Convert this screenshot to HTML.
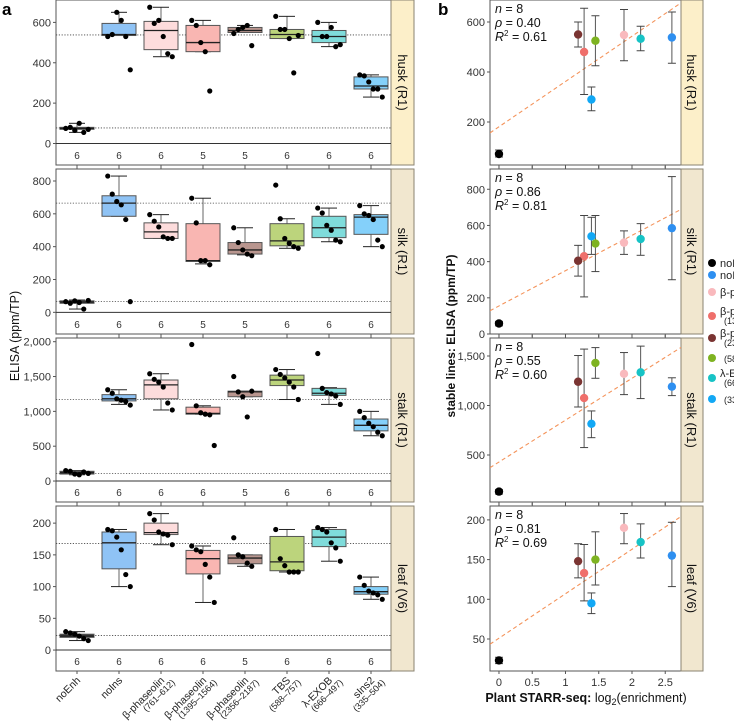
<!DOCTYPE html>
<html><head><meta charset="utf-8">
<style>
html,body{margin:0;padding:0;width:734px;height:723px;overflow:hidden;background:#fff;}
svg{display:block;font-family:"Liberation Sans",sans-serif;}
</style></head>
<body>
<svg id="fig" width="734" height="723" viewBox="0 0 734 723" xmlns="http://www.w3.org/2000/svg"></svg>
<script>
const categories = ["noEnh","noIns","β-phaseolin|(761–612)","β-phaseolin|(1395–1564)","β-phaseolin|(2356–2187)","TBS|(588–757)","λ-EXOB|(666–497)","sIns2|(335–504)"];
const tissues = ["husk (R1)","silk (R1)","stalk (R1)","leaf (V6)"];
const boxFill = ["#3a3a3a","#8fc3f5","#fddcdc","#f9b6b2","#b9968f","#bcd47c","#7fdcdb","#84d0fa"];
const dotColor = ["#000000","#2e8ff0","#f9b9bd","#ef6f6b","#7a3432","#7eb321","#17c3c6","#12a8f5"];
// boxes: [lo, q1, med, q3, hi]
const huskBox = [[55,70,75,80,100],[535,535,540,595,650],[430,465,560,605,675],[455,455,500,585,610],[550,550,560,575,585],[520,520,540,565,630],[480,500,530,560,600],[230,270,285,330,340]];
const huskPts = [[75,80,65,100,55,70],[530,540,650,610,530,365],[675,595,610,530,445,430],[610,585,500,455,260],[545,565,575,585,485],[630,565,565,520,350,535],[600,530,530,575,480,490],[340,335,305,270,270,230]];
const silkBox = [[20,55,63,70,75],[585,585,665,710,830],[450,450,490,545,595],[295,310,315,540,695],[350,355,380,425,515],[390,405,435,540,570],[430,455,515,585,635],[400,475,580,595,650]];
const silkPts = [[65,55,70,60,20,72],[830,720,675,655,565,65],[595,555,520,460,450,450],[695,545,315,315,290],[515,425,380,355,345],[775,570,450,420,400,390],[635,605,530,500,440,430],[650,600,590,565,440,400]];
const stalkBox = [[90,100,120,140,150],[1100,1150,1180,1240,1310],[1020,1180,1380,1450,1540],[960,960,970,1060,1080],[1210,1210,1280,1290,1290],[1170,1370,1450,1520,1600],[1100,1230,1260,1330,1340],[650,720,800,890,1000]];
const stalkPts = [[150,140,100,90,130,110],[1310,1260,1180,1160,1140,1090],[1540,1460,1420,1350,1120,1020],[1960,1080,980,960,950,510],[1500,1280,1210,920,1290],[1600,1530,1480,1420,1350,1170],[1830,1330,1270,1250,1220,1100],[1000,910,830,780,700,650]];
const leafBox = [[15,20,22,25,29],[100,128,169,186,190],[166,182,185,200,215],[75,120,144,157,164],[132,136,145,150,150],[123,125,139,179,190],[140,163,178,190,193],[80,88,92,100,115]];
const leafPts = [[29,27,25,22,18,15],[190,188,178,158,119,100],[215,205,186,183,181,166],[164,158,155,135,115,75],[177,150,147,137,132],[190,144,133,123,123,123],[193,190,186,169,161,140],[115,102,93,90,87,80]];
const refLines = [[77,538],[65,665],[110,1170],[23,168]];
const counts = [[6,6,6,5,5,6,6,6],[6,6,6,5,5,6,6,6],[6,6,6,6,5,6,6,6],[6,6,6,6,5,6,6,6]];
const leftTicks = [[0,200,400,600],[0,200,400,600,800],[0,500,1000,1500,2000],[0,50,100,150,200]];
const leftTickLabels = [["0","200","400","600"],["0","200","400","600","800"],["0","500","1,000","1,500","2,000"],["0","50","100","150","200"]];
const enrich = [0,2.6,1.88,1.28,1.19,1.45,2.13,1.39];
const huskMean = [72,538,548,480,550,525,533,290];
const huskLo = [60,435,445,310,500,425,485,245];
const huskHi = [88,640,650,655,600,625,583,340];
const silkMean = [58,585,505,430,405,500,525,540];
const silkLo = [45,300,440,205,320,345,435,440];
const silkHi = [70,870,570,655,490,655,610,645];
const stalkMean = [130,1190,1320,1075,1240,1430,1335,815];
const stalkLo = [105,1100,1110,575,985,1275,1070,675];
const stalkHi = [150,1280,1535,1570,1505,1585,1600,945];
const leafMean = [23,155,190,133,148,150,172,95];
const leafLo = [19,116,170,98,127,118,152,82];
const leafHi = [27,197,208,169,170,185,195,108];
const fitIntercept = [181,155,429,51];
const fitSlope = [181,195,423,56];
const statsRho = ["0.40","0.86","0.55","0.81"];
const statsR2 = ["0.61","0.81","0.60","0.69"];
const rightTicks = [[200,400,600],[0,200,400,600,800],[500,1000,1500],[50,100,150,200]];
const rightTickLabels = [["200","400","600"],["0","200","400","600","800"],["500","1,000","1,500"],["50","100","150","200"]];
const xTicks = [0,0.5,1,1.5,2,2.5];
const xTickLabels = ["0","0.5","1","1.5","2","2.5"];
const legendLine1 = ["noEnh","noIns","β-phaseolin","β-phaseolin","β-phaseolin","TBS","λ-EXOB","sIns2"];
const legendLine2 = ["","","","(1395–1564)","(2356–2187)","(588–757)","(666–497)","(335–504)"];

const NS="http://www.w3.org/2000/svg";
const svg=document.getElementById('fig');
function el(tag,attrs,parent,text){const e=document.createElementNS(NS,tag);for(const k in attrs)e.setAttribute(k,attrs[k]);if(text!==undefined)e.textContent=text;(parent||svg).appendChild(e);return e;}

const panelTop=[0,169,338,506], panelBot=[165,334,502,671];
const leftDom=[[-106.6,711],[-132,873],[-301,2053],[-33,227]];
const rightDom=[[28,688],[0,912],[25,1682],[9.7,217.5]];
const LX0=56,LX1=391,RX0=490,RX1=681;
const boxes=[huskBox,silkBox,stalkBox,leafBox], pts=[huskPts,silkPts,stalkPts,leafPts];
const means=[huskMean,silkMean,stalkMean,leafMean], los=[huskLo,silkLo,stalkLo,leafLo], his=[huskHi,silkHi,stalkHi,leafHi];
const stripFill=["#fcefc9","#f1e7cf","#f1e7cf","#f1e7cf"];
function catX(i){return 77+i*42;}
function xR(v){return RX0+(v+0.135)/(2.872)*(RX1-RX0);}

for(let p=0;p<4;p++){
  const t=panelTop[p],b=panelBot[p];
  const yL=v=>b-(v-leftDom[p][0])/(leftDom[p][1]-leftDom[p][0])*(b-t);
  const yR=v=>b-(v-rightDom[p][0])/(rightDom[p][1]-rightDom[p][0])*(b-t);
  const g=el('g',{},svg);
  
  
  el('rect',{x:LX0,y:t,width:LX1-LX0,height:b-t,fill:'#fff',stroke:'#555','stroke-width':1},g);
  const s=el('rect',{x:LX1,y:t,width:23,height:b-t,fill:stripFill[p],stroke:'#8a8372','stroke-width':1},g);
  
  
  el('text',{x:0,y:0,transform:`translate(${LX1+7},${(t+b)/2}) rotate(90)`,'text-anchor':'middle','font-size':13,fill:'#111'},g,tissues[p]);
  el('line',{x1:LX0,x2:LX1,y1:yL(0),y2:yL(0),stroke:'#333','stroke-width':1},g);
  refLines[p].forEach(v=>{const r=el('line',{x1:LX0,x2:LX1,y1:yL(v),y2:yL(v),stroke:'#444','stroke-width':0.8,'stroke-dasharray':'1.2,1.6'},g);
    
    });
  leftTicks[p].forEach((v,i)=>{el('line',{x1:LX0-3,x2:LX0,y1:yL(v),y2:yL(v),stroke:'#555'},g);
    el('text',{x:LX0-5,y:yL(v)+4,'text-anchor':'end','font-size':11,fill:'#333'},g,leftTickLabels[p][i]);});
  for(let c=0;c<8;c++){
    const cx=catX(c),bx=boxes[p][c];
    el('line',{x1:cx,x2:cx,y1:b,y2:b+3,stroke:'#555'},g);
    el('line',{x1:cx,x2:cx,y1:t-3,y2:t,stroke:'#555'},g);
    const bg=el('g',{},g);
    
    
    el('line',{x1:cx,x2:cx,y1:yL(bx[0]),y2:yL(bx[4]),stroke:'#666','stroke-width':1},bg);
    el('line',{x1:cx-8,x2:cx+8,y1:yL(bx[0]),y2:yL(bx[0]),stroke:'#222','stroke-width':1},bg);
    el('line',{x1:cx-8,x2:cx+8,y1:yL(bx[4]),y2:yL(bx[4]),stroke:'#222','stroke-width':1},bg);
    el('rect',{x:cx-17,y:yL(bx[3]),width:34,height:Math.max(1.5,yL(bx[1])-yL(bx[3])),fill:boxFill[c],stroke:'#555','stroke-width':1},bg);
    el('line',{x1:cx-17,x2:cx+17,y1:yL(bx[2]),y2:yL(bx[2]),stroke:'#222','stroke-width':1.3},bg);
    pts[p][c].forEach((v,i)=>{const d=el('circle',{cx:cx+((i*7)%6-2.5)*4.5,cy:yL(v),r:2.6,fill:'#000'},bg);
      
      });
    el('text',{x:cx,y:b-6,'text-anchor':'middle','font-size':10,fill:'#333'},g,String(counts[p][c]));
  }
  const h=el('g',{},svg);
  
  
  el('rect',{x:RX0,y:t,width:RX1-RX0,height:b-t,fill:'#fff',stroke:'#555','stroke-width':1},h);
  const s2=el('rect',{x:RX1,y:t,width:22,height:b-t,fill:stripFill[p],stroke:'#8a8372','stroke-width':1},h);
  
  
  el('text',{x:0,y:0,transform:`translate(${RX1+6},${(t+b)/2}) rotate(90)`,'text-anchor':'middle','font-size':13,fill:'#111'},h,tissues[p]);
  rightTicks[p].forEach((v,i)=>{el('line',{x1:RX0-3,x2:RX0,y1:yR(v),y2:yR(v),stroke:'#555'},h);
    el('text',{x:RX0-5,y:yR(v)+4,'text-anchor':'end','font-size':11,fill:'#333'},h,rightTickLabels[p][i]);});
  xTicks.forEach(v=>{el('line',{x1:xR(v),x2:xR(v),y1:b,y2:b+3,stroke:'#555'},h);el('line',{x1:xR(v),x2:xR(v),y1:t-3,y2:t,stroke:'#555'},h);});
  const cid='clip'+p;
  const cp=el('clipPath',{id:cid},h);el('rect',{x:RX0,y:t,width:RX1-RX0,height:b-t},cp);
  const xa=-0.135,xb=2.737;
  const fl=el('line',{x1:xR(xa),x2:xR(xb),y1:yR(fitIntercept[p]+fitSlope[p]*xa),y2:yR(fitIntercept[p]+fitSlope[p]*xb),stroke:'#f4935a','stroke-width':1.1,'stroke-dasharray':'4,3','clip-path':`url(#${cid})`},h);
  
  
  for(let c=0;c<8;c++){
    const x=xR(enrich[c]);
    const eg=el('g',{},h);
    
    
    el('line',{x1:x,x2:x,y1:yR(los[p][c]),y2:yR(his[p][c]),stroke:'#555','stroke-width':1},eg);
    el('line',{x1:x-4,x2:x+4,y1:yR(los[p][c]),y2:yR(los[p][c]),stroke:'#444','stroke-width':1},eg);
    el('line',{x1:x-4,x2:x+4,y1:yR(his[p][c]),y2:yR(his[p][c]),stroke:'#444','stroke-width':1},eg);
    el('circle',{cx:x,cy:yR(means[p][c]),r:4.2,fill:dotColor[c]},eg);
  }
  const st=el('text',{x:RX0+4,y:t+13,'font-size':12.5,fill:'#111'},h);
  
  
  el('tspan',{x:RX0+5,dy:0,'font-style':'italic'},st,'n');el('tspan',{},st,' = 8');
  el('tspan',{x:RX0+5,dy:14,'font-style':'italic'},st,'ρ');el('tspan',{},st,' = '+statsRho[p]);
  el('tspan',{x:RX0+5,dy:14,'font-style':'italic'},st,'R');el('tspan',{dy:-5,'font-size':8},st,'2');el('tspan',{dy:5},st,' = '+statsR2[p]);
}
categories.forEach((c,i)=>{const parts=c.split('|');const cx=catX(i);
  const tg=el('text',{x:0,y:0,transform:`translate(${cx+4},${681}) rotate(-45)`,'text-anchor':'end','font-size':10.5,fill:'#222'},svg);
  
  
  el('tspan',{x:0,dy:0},tg,parts[0]);
  if(parts[1]) el('tspan',{x:6,dy:9,'font-size':9},tg,parts[1]);
});
xTicks.forEach((v,i)=>el('text',{x:xR(v),y:686,'text-anchor':'middle','font-size':11,fill:'#333'},svg,xTickLabels[i]));
const xt=el('text',{x:586,y:702,'text-anchor':'middle','font-size':12.5,fill:'#111'},svg);


el('tspan',{'font-weight':'bold'},xt,'Plant STARR-seq: ');el('tspan',{},xt,'log');el('tspan',{dy:3,'font-size':9},xt,'2');el('tspan',{dy:-3},xt,'(enrichment)');
const yt1=el('text',{x:0,y:0,transform:'translate(19,336) rotate(-90)','text-anchor':'middle','font-size':12.5,fill:'#111'},svg,'ELISA (ppm/TP)');


const yt2=el('text',{x:0,y:0,transform:'translate(455,336) rotate(-90)','text-anchor':'middle','font-size':12,'font-weight':'bold',fill:'#111'},svg,'stable lines: ELISA (ppm/TP)');


el('text',{x:2,y:15,'font-size':17,'font-weight':'bold',fill:'#000'},svg,'a');
el('text',{x:438,y:15,'font-size':17,'font-weight':'bold',fill:'#000'},svg,'b');
const legY=[263,275,292,316,338,358,378,399];
legendLine1.forEach((l,i)=>{const lg=el('g',{},svg);
  
  
  el('circle',{cx:712,cy:legY[i],r:4,fill:dotColor[i]},lg);
  const two=legendLine2[i]!=='';
  const single=(i===5||i===7);
  if(!single) el('text',{x:720,y:legY[i]+(two?-1:4),'font-size':11,fill:'#222'},lg,l);
  if(two) el('text',{x:724,y:legY[i]+(single?4:8),'font-size':9,fill:'#222'},lg,legendLine2[i]);
});
</script>
</body></html>
